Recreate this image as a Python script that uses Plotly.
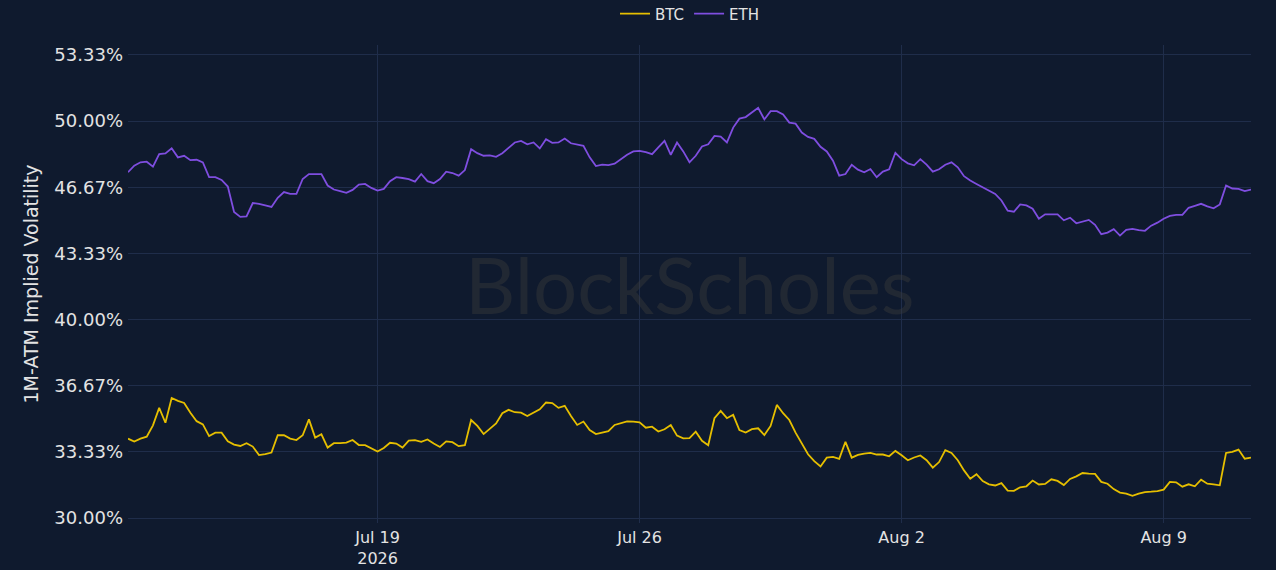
import pandas as pd
import plotly.graph_objects as go

# 4-hourly samples, Jul 12 08:00 -> Aug 11 08:00 (values in %)
start = "2026-07-12 08:00"
step = "4h"

eth = [
    47.42, 47.75, 47.92, 47.95, 47.70, 48.33, 48.37, 48.63, 48.17, 48.25,
    48.03, 48.05, 47.92, 47.17, 47.17, 47.03, 46.70, 45.42, 45.17, 45.20,
    45.87, 45.83, 45.75, 45.67, 46.13, 46.42, 46.33, 46.33, 47.08, 47.33,
    47.33, 47.33, 46.75, 46.55, 46.47, 46.38, 46.53, 46.80, 46.83, 46.63,
    46.50, 46.58, 46.97, 47.17, 47.13, 47.07, 46.95, 47.33, 46.97, 46.87,
    47.08, 47.45, 47.38, 47.25, 47.53, 48.58, 48.38, 48.25, 48.27, 48.20,
    48.38, 48.67, 48.92, 49.00, 48.83, 48.92, 48.62, 49.08, 48.90, 48.92,
    49.12, 48.88, 48.83, 48.75, 48.17, 47.73, 47.80, 47.78, 47.85, 48.08,
    48.30, 48.47, 48.50, 48.43, 48.33, 48.67, 49.00, 48.30, 48.92, 48.47,
    47.92, 48.25, 48.72, 48.83, 49.25, 49.22, 48.92, 49.67, 50.12, 50.20,
    50.42, 50.67, 50.08, 50.50, 50.50, 50.33, 49.92, 49.87, 49.42, 49.20,
    49.10, 48.70, 48.47, 48.00, 47.25, 47.33, 47.80, 47.55, 47.42, 47.58,
    47.17, 47.45, 47.57, 48.40, 48.08, 47.87, 47.77, 48.08, 47.80, 47.45,
    47.57, 47.80, 47.92, 47.67, 47.22, 47.00, 46.83, 46.67, 46.47, 46.33,
    46.00, 45.48, 45.43, 45.80, 45.75, 45.58, 45.08, 45.30, 45.30, 45.30,
    45.00, 45.13, 44.85, 44.95, 45.02, 44.77, 44.30, 44.38, 44.55, 44.23,
    44.52, 44.57, 44.50, 44.47, 44.73, 44.88, 45.08, 45.22, 45.27, 45.27,
    45.63, 45.73, 45.83, 45.70, 45.60, 45.80, 46.75, 46.60, 46.58, 46.47,
    46.55,
]

btc = [
    34.00, 33.85, 34.00, 34.10, 34.67, 35.55, 34.80, 36.05, 35.90, 35.80,
    35.30, 34.88, 34.72, 34.13, 34.30, 34.30, 33.87, 33.70, 33.63, 33.77,
    33.60, 33.17, 33.22, 33.30, 34.17, 34.17, 34.00, 33.93, 34.17, 34.97,
    34.05, 34.22, 33.55, 33.77, 33.77, 33.80, 33.93, 33.68, 33.67, 33.50,
    33.35, 33.53, 33.79, 33.75, 33.55, 33.90, 33.92, 33.84, 33.96, 33.75,
    33.58, 33.86, 33.82, 33.62, 33.67, 34.94, 34.64, 34.23, 34.50, 34.77,
    35.28, 35.45, 35.33, 35.31, 35.14, 35.31, 35.48, 35.82, 35.79, 35.55,
    35.65, 35.14, 34.69, 34.86, 34.43, 34.23, 34.30, 34.38, 34.69, 34.77,
    34.87, 34.86, 34.82, 34.55, 34.60, 34.36, 34.47, 34.69, 34.15, 34.01,
    34.03, 34.35, 33.89, 33.67, 35.03, 35.40, 35.03, 35.20, 34.43, 34.31,
    34.48, 34.52, 34.18, 34.64, 35.70, 35.28, 34.94, 34.30, 33.75, 33.21,
    32.87, 32.60, 33.04, 33.08, 32.98, 33.84, 33.04, 33.18, 33.25, 33.28,
    33.20, 33.20, 33.11, 33.38, 33.16, 32.91, 33.05, 33.15, 32.91, 32.54,
    32.82, 33.42, 33.28, 32.91, 32.40, 31.98, 32.21, 31.86, 31.70, 31.64,
    31.76, 31.38, 31.37, 31.55, 31.60, 31.89, 31.69, 31.72, 31.95, 31.87,
    31.66, 31.97, 32.10, 32.27, 32.24, 32.22, 31.82, 31.73, 31.46, 31.28,
    31.23, 31.12, 31.23, 31.31, 31.33, 31.36, 31.43, 31.82, 31.80, 31.58,
    31.70, 31.60, 31.93, 31.73, 31.70, 31.65, 33.28, 33.33, 33.45, 32.99,
    33.04,
]

dates = pd.date_range(start, periods=len(eth), freq=step)

bg = "#0f1a2e"
grid = "#1f2d4a"
txt = "#e3e3e3"
fnt = "DejaVu Sans"

fig = go.Figure()
fig.add_trace(go.Scatter(x=dates, y=btc, name="BTC", mode="lines",
                         line=dict(color="#e6bf00", width=1.8)))
fig.add_trace(go.Scatter(x=dates, y=eth, name="ETH", mode="lines",
                         line=dict(color="#7f4ee0", width=1.8)))

# faint watermark in the middle of the plot
fig.add_annotation(text="BlockScholes", xref="paper", yref="paper",
                   x=0.5, y=0.5, showarrow=False,
                   font=dict(family="Lato", size=78,
                             color="rgba(60,60,60,0.42)"))

fig.update_layout(
    width=1276, height=570,
    paper_bgcolor=bg, plot_bgcolor=bg,
    margin=dict(l=128, r=25, t=45, b=47, autoexpand=False),
    font=dict(family=fnt, size=16, color=txt),
    legend=dict(orientation="h", x=0.5, xanchor="center", y=1.065, yanchor="middle",
                font=dict(size=15, color=txt), bgcolor="rgba(0,0,0,0)"),
    showlegend=True,
)
fig.update_xaxes(showgrid=True, gridcolor=grid, gridwidth=1, zeroline=False,
                 showline=False, automargin=False, ticklabelstandoff=3,
                 tickfont=dict(size=16, color=txt), ticks="")
fig.update_yaxes(range=[29.75, 53.83], tickmode="linear", tick0=30, dtick=10/3,
                 tickformat=".2f", ticksuffix="%", showgrid=True, gridcolor=grid,
                 gridwidth=1, zeroline=False, showline=False, automargin=False,
                 ticklabelstandoff=4,
                 tickfont=dict(size=18, color=txt),
                 title=dict(text="1M-ATM Implied Volatility",
                            font=dict(size=19, color=txt), standoff=10))

fig.write_html("out.html", config={"displayModeBar": False},
               post_script="document.body.style.margin='0';"
                           "document.body.style.background='#0f1a2e';")
